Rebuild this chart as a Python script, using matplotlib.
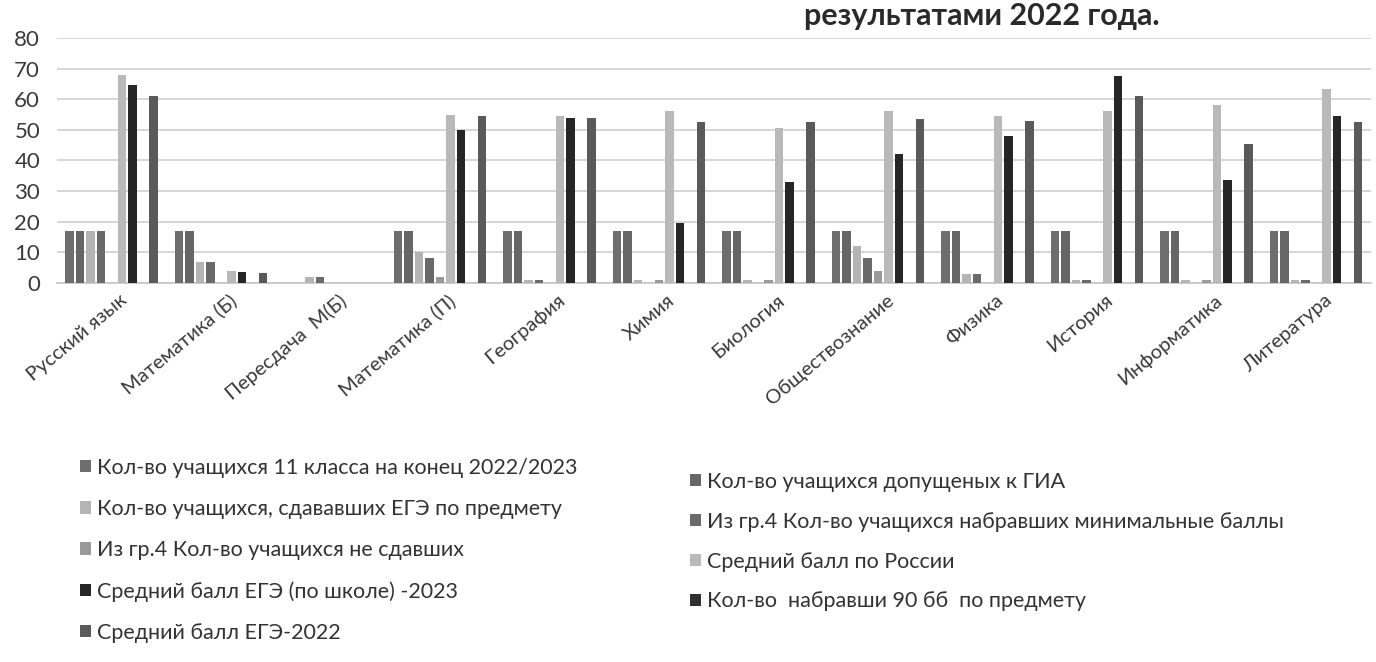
import matplotlib
matplotlib.use("Agg")
import matplotlib.pyplot as plt
import numpy as np

plt.rcParams['font.family'] = ['Lato', 'DejaVu Sans']

categories = ["Русский язык", "Математика (Б)", "Пересдача  М(Б)", "Математика (П)",
              "География", "Химия", "Биология", "Обществознание", "Физика",
              "История", "Информатика", "Литература"]

# values (tilt of the photo removed)
pupils_11 = [17, 17, 0, 17, 17, 17, 17, 17, 17, 17, 17, 17]
admitted = [17, 17, 0, 17, 17, 17, 17, 17, 17, 17, 17, 17]
took_exam = [17, 7, 2, 10, 1, 1, 1, 12, 3, 1, 1, 1]
min_score = [17, 7, 2, 8, 1, 0, 0, 8, 3, 1, 0, 1]
failed = [0, 0, 0, 2, 0, 1, 1, 4, 0, 0, 1, 0]
avg_russia = [68, 3.9, 0, 55, 54.5, 56, 50.5, 56, 54.5, 56, 58, 63.5]
avg_school_2023 = [64.5, 3.5, 0, 50, 54, 19.5, 33, 42, 48, 67.5, 33.5, 54.5]
over_90 = [0, 0, 0, 0, 0, 0, 0, 0, 0, 0, 0, 0]
avg_2022 = [61, 3.4, 0, 54.5, 54, 52.5, 52.5, 53.5, 53, 61, 45.5, 52.5]

series = [
    ("Кол-во учащихся 11 класса на конец 2022/2023", pupils_11, "#6e6e6e"),
    ("Кол-во учащихся допущеных к ГИА", admitted, "#666666"),
    ("Кол-во учащихся, сдававших ЕГЭ по предмету", took_exam, "#b4b4b4"),
    ("Из гр.4 Кол-во учащихся набравших минимальные баллы", min_score, "#6a6a6a"),
    ("Из гр.4 Кол-во учащихся не сдавших", failed, "#9a9a9a"),
    ("Средний балл по России", avg_russia, "#b9b9b9"),
    ("Средний балл ЕГЭ (по школе) -2023", avg_school_2023, "#262626"),
    ("Кол-во  набравши 90 бб  по предмету", over_90, "#303030"),
    ("Средний балл ЕГЭ-2022", avg_2022, "#5a5a5a"),
]

W, H = 1376, 662
fig = plt.figure(figsize=(W / 100, H / 100), dpi=100)
ax = fig.add_axes([56.75 / W, 1 - 283 / H, 1314 / W, 245 / H])

x = np.arange(len(categories))
slot = 0.0959
bw = 0.075
handles = []
for i, (name, vals, col) in enumerate(series):
    h = ax.bar(x + (i - 4) * slot, vals, bw, color=col, label=name, zorder=3)
    handles.append(h)

ax.set_xlim(-0.5, len(categories) - 0.5)
ax.set_ylim(0, 80)
ax.set_yticks(range(0, 81, 10))
ax.yaxis.grid(True, color="#cfcfcf", lw=1.2, zorder=0)
for s in ["top", "right", "left"]:
    ax.spines[s].set_visible(False)
ax.spines["bottom"].set_color("#c4c4c4")
ax.spines["bottom"].set_linewidth(1.2)
ax.tick_params(axis="both", length=0, colors="#3a3a3a")
ax.tick_params(axis="y", labelsize=16, pad=12)
ax.set_xticks(x + 0.07)
ax.set_xticklabels(categories, rotation=40, ha="right", va="top",
                   rotation_mode="anchor", fontsize=14.5)
ax.tick_params(axis="x", pad=6)

# title sits right at the top edge (the scan cuts off its first words)
fig.text(1160 / W, 1 - 25 / H, "результатами 2022 года.", ha="right",
         va="baseline", fontsize=22, fontweight="bold", color="#2a2a2a")

left = [handles[i] for i in (0, 2, 4, 6, 8)]
right = [handles[i] for i in (1, 3, 5, 7)]
leg_kw = dict(frameon=False, fontsize=15.5, borderpad=0, borderaxespad=0,
              handlelength=0.5, handleheight=0.5, handletextpad=0.3,
              labelcolor="#333333")
fig.legend(handles=left, labels=[h.get_label() for h in left],
           loc="upper left", bbox_to_anchor=(80 / W, 1 - 458 / H),
           labelspacing=0.98, **leg_kw)
fig.legend(handles=right, labels=[h.get_label() for h in right],
           loc="upper left", bbox_to_anchor=(690 / W, 1 - 472 / H),
           labelspacing=0.92, **leg_kw)

fig.savefig("out.png", dpi=100, facecolor="white")
